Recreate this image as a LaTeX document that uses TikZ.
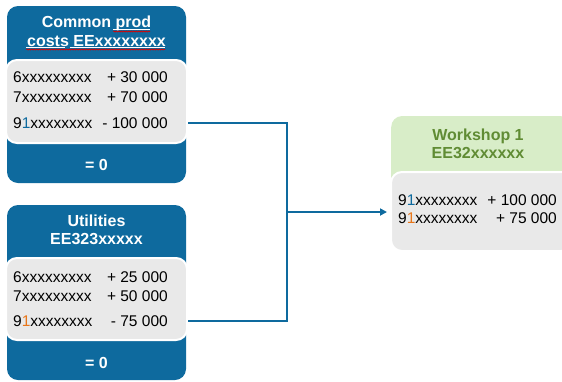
\documentclass[tikz,border=0pt]{standalone}
\usepackage{fontspec}
\setmainfont{Liberation Sans}
\usepackage{xcolor}
\usepackage{tikz}
\usetikzlibrary{arrows.meta,positioning,decorations.pathmorphing}

\definecolor{boxblue}{RGB}{14,106,158}
\definecolor{cellgrey}{RGB}{233,233,233}
\definecolor{shopgreen}{RGB}{216,237,200}
\definecolor{shoptext}{RGB}{96,140,52}
\definecolor{accorange}{RGB}{232,118,26}

\tikzset{
  account/.style={draw=none, fill=boxblue, rounded corners=11pt, minimum width=179pt, inner sep=0pt},
  shopbox/.style={draw=none, fill=shopgreen, rounded corners=11pt, minimum width=180pt, inner sep=0pt},
  cell/.style={draw=white, line width=2pt, fill=cellgrey, rounded corners=11pt, minimum width=181pt, inner sep=0pt},
  title/.style={font=\bfseries\fontsize{16}{18.5}\selectfont, text=white, align=center, inner sep=0pt},
  row/.style={font=\fontsize{15.5}{18}\selectfont, inner sep=0pt},
  conn/.style={draw=boxblue, line width=2pt},
  uline/.style={draw=white, line width=1pt},
  typo/.style={draw=red!85!black, line width=0.6pt, decorate, decoration={snake, amplitude=0.6pt, segment length=2.5pt}}
}

\begin{document}
\begin{tikzpicture}[x=1pt,y=-1pt]
\useasboundingbox (0,0) rectangle (562,381);

% common prod costs
\node(common)[account, minimum height=177pt] at (96.5,94.5){};
\node(commoncell)[cell, minimum height=83pt] at (96.5,101.5){};
\node(commonttl)[title] at (96.5,31.5){Common prod\\costs EExxxxxxxx};
\draw[uline] (113,29)--(150,29);
\draw[uline] (26,47)--(65,47);
\draw[uline] (70,47)--(165,47);
\draw[typo] (113,31.5)--(150,31.5);
\draw[typo] (26,49.5)--(165,49.5);
\node(c6)[row, anchor=west] at (13,77){6xxxxxxxxx};
\node(c6v)[row, anchor=east] at (168,77){+ 30 000};
\node(c7)[row, anchor=west] at (13,97){7xxxxxxxxx};
\node(c7v)[row, anchor=east] at (168,97){+ 70 000};
\node(c91)[row, anchor=west] at (13,123){9{\color{boxblue}1}xxxxxxxx};
\node(c91v)[row, anchor=east] at (168,123){- 100 000};
\node(commonzero)[title] at (96.5,165){= 0};

% utilities
\node(util)[account, minimum height=175pt] at (96.5,292.5){};
\node(utilcell)[cell, minimum height=82pt] at (96.5,299){};
\node(utilttl)[title] at (96.5,230){Utilities\\EE323xxxxx};
\node(u6)[row, anchor=west] at (13,277){6xxxxxxxxx};
\node(u6v)[row, anchor=east] at (168,277){+ 25 000};
\node(u7)[row, anchor=west] at (13,296){7xxxxxxxxx};
\node(u7v)[row, anchor=east] at (168,296){+ 50 000};
\node(u91)[row, anchor=west] at (13,321){9{\color{accorange}1}xxxxxxxx};
\node(u91v)[row, anchor=east] at (168,321){- 75 000};
\node(utilzero)[title] at (96.5,363){= 0};

% workshop
\node(shop)[shopbox, minimum height=134pt, anchor=west] at (391,183){};
\node(shopcell)[cell, minimum height=79pt, anchor=west] at (390,211.5){};
\node(shopttl)[title, text=shoptext] at (478,144){Workshop 1\\EE32xxxxxx};
\node(s1)[row, anchor=west] at (398,200){9{\color{boxblue}1}xxxxxxxx};
\node(s1v)[row, anchor=east] at (557,200){+ 100 000};
\node(s2)[row, anchor=west] at (398,218){9{\color{accorange}1}xxxxxxxx};
\node(s2v)[row, anchor=east] at (557,218){+ 75 000};

\coordinate(junc) at (287,212);

\draw[conn] (commoncell.east |- c91) -| (junc) |- (utilcell.east |- u91);
\draw[conn, -{Triangle[length=7pt,width=7pt]}] (junc) -- ([xshift=-3pt]shopcell.west |- junc);

\end{tikzpicture}
\end{document}
